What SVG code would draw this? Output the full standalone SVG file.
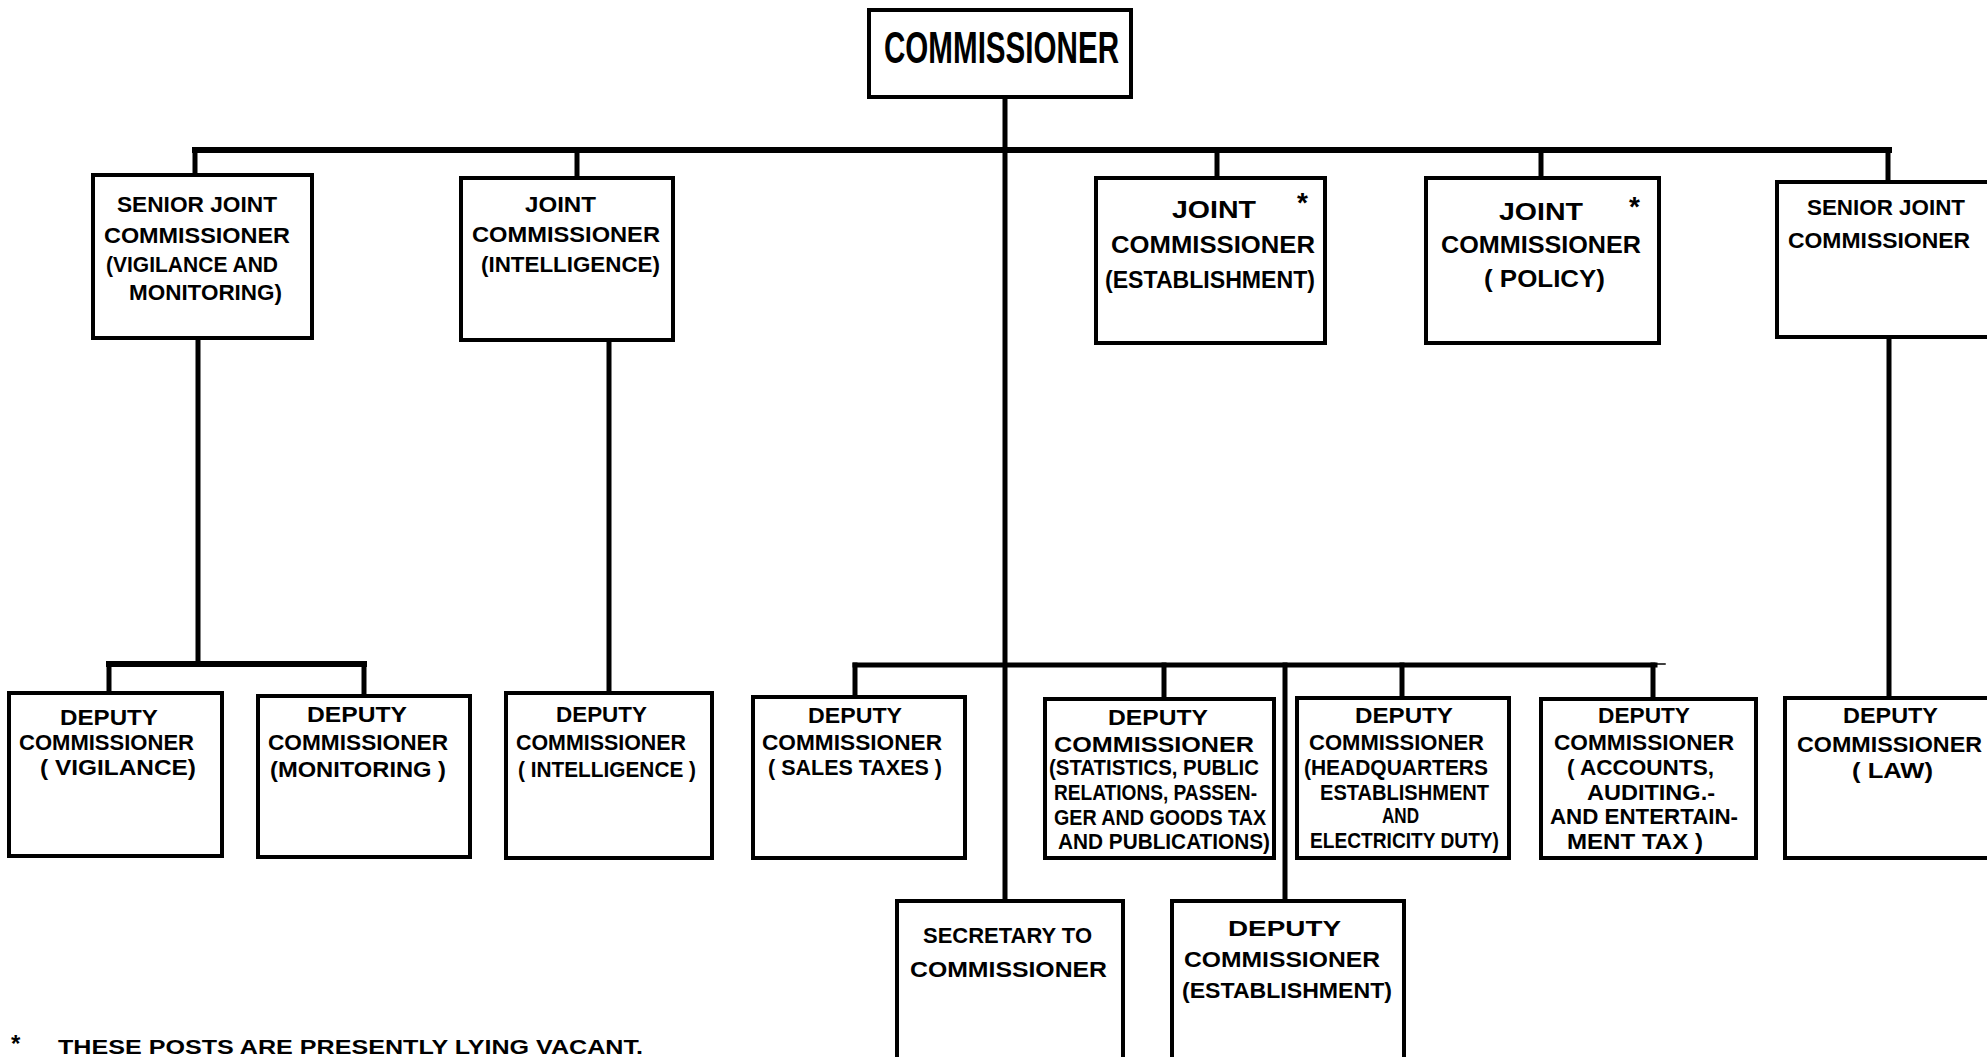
<svg xmlns="http://www.w3.org/2000/svg" width="1987" height="1057" viewBox="0 0 1987 1057">
<style>
.box{fill:#fff;stroke:#000;stroke-width:4}
.conn line{stroke:#000;stroke-width:5;stroke-linecap:square}
text{font-family:"Liberation Sans",Arial,sans-serif;font-weight:bold;font-size:22px;fill:#000}
.big{font-size:44px}
.mid{font-size:24px}
.ast{font-size:28px}
</style>
<rect width="1987" height="1057" fill="#fff"/>
<g id="connectors" class="conn">
<line x1="1005" y1="97" x2="1005" y2="900"/>
<line x1="195" y1="150" x2="1889" y2="150" style="stroke-width:6"/>
<line x1="195" y1="150" x2="195" y2="175"/>
<line x1="577" y1="150" x2="577" y2="178"/>
<line x1="1217" y1="150" x2="1217" y2="178"/>
<line x1="1541" y1="150" x2="1541" y2="178"/>
<line x1="1888" y1="150" x2="1888" y2="182"/>
<line x1="198" y1="338" x2="198" y2="664"/>
<line x1="109" y1="664" x2="364" y2="664" style="stroke-width:6"/>
<line x1="109" y1="664" x2="109" y2="693"/>
<line x1="364" y1="664" x2="364" y2="696"/>
<line x1="609" y1="340" x2="609" y2="693"/>
<line x1="855" y1="665" x2="1655" y2="665"/>
<line x1="855" y1="665" x2="855" y2="697"/>
<line x1="1164" y1="665" x2="1164" y2="699"/>
<line x1="1402" y1="665" x2="1402" y2="698"/>
<line x1="1653" y1="665" x2="1653" y2="699"/>
<line x1="1285" y1="665" x2="1285" y2="901"/>
<line x1="1889" y1="338" x2="1889" y2="698"/>
<line x1="1655" y1="664" x2="1665" y2="664" style="stroke-width:1.5"/>
</g>
<g id="commissioner">
<rect class="box" x="869" y="10" width="262" height="87"/>
<text class="big" x="884" y="63" textLength="235" lengthAdjust="spacingAndGlyphs">COMMISSIONER</text>
</g>
<g id="sjc-vigilance">
<rect class="box" x="93" y="175" width="219" height="163"/>
<text x="117" y="212" textLength="160" lengthAdjust="spacingAndGlyphs">SENIOR JOINT</text>
<text x="104" y="243" textLength="186" lengthAdjust="spacingAndGlyphs">COMMISSIONER</text>
<text x="106" y="272" textLength="172" lengthAdjust="spacingAndGlyphs">(VIGILANCE AND</text>
<text x="129" y="300" textLength="153" lengthAdjust="spacingAndGlyphs">MONITORING)</text>
</g>
<g id="jc-intelligence">
<rect class="box" x="461" y="178" width="212" height="162"/>
<text x="525" y="212" textLength="71" lengthAdjust="spacingAndGlyphs">JOINT</text>
<text x="472" y="242" textLength="188" lengthAdjust="spacingAndGlyphs">COMMISSIONER</text>
<text x="481" y="272" textLength="179" lengthAdjust="spacingAndGlyphs">(INTELLIGENCE)</text>
</g>
<g id="jc-establishment">
<rect class="box" x="1096" y="178" width="229" height="165"/>
<text class="mid" x="1172" y="218" textLength="84" lengthAdjust="spacingAndGlyphs">JOINT</text>
<text class="mid" x="1111" y="253" textLength="204" lengthAdjust="spacingAndGlyphs">COMMISSIONER</text>
<text class="mid" x="1105" y="288" textLength="210" lengthAdjust="spacingAndGlyphs">(ESTABLISHMENT)</text>
<text class="ast" x="1297" y="212">*</text>
</g>
<g id="jc-policy">
<rect class="box" x="1426" y="178" width="233" height="165"/>
<text class="mid" x="1499" y="220" textLength="84" lengthAdjust="spacingAndGlyphs">JOINT</text>
<text class="mid" x="1441" y="253" textLength="200" lengthAdjust="spacingAndGlyphs">COMMISSIONER</text>
<text class="mid" x="1484" y="287" textLength="121" lengthAdjust="spacingAndGlyphs">( POLICY)</text>
<text class="ast" x="1629" y="216">*</text>
</g>
<g id="sjc-right">
<rect class="box" x="1777" y="182" width="240" height="155"/>
<text x="1807" y="215" textLength="158" lengthAdjust="spacingAndGlyphs">SENIOR JOINT</text>
<text x="1788" y="248" textLength="182" lengthAdjust="spacingAndGlyphs">COMMISSIONER</text>
</g>
<g id="dc-vigilance">
<rect class="box" x="9" y="693" width="213" height="163"/>
<text x="60" y="725" textLength="98" lengthAdjust="spacingAndGlyphs">DEPUTY</text>
<text x="19" y="750" textLength="175" lengthAdjust="spacingAndGlyphs">COMMISSIONER</text>
<text x="40" y="775" textLength="156" lengthAdjust="spacingAndGlyphs">( VIGILANCE)</text>
</g>
<g id="dc-monitoring">
<rect class="box" x="258" y="696" width="212" height="161"/>
<text x="307" y="722" textLength="100" lengthAdjust="spacingAndGlyphs">DEPUTY</text>
<text x="268" y="750" textLength="180" lengthAdjust="spacingAndGlyphs">COMMISSIONER</text>
<text x="270" y="777" textLength="176" lengthAdjust="spacingAndGlyphs">(MONITORING )</text>
</g>
<g id="dc-intelligence">
<rect class="box" x="506" y="693" width="206" height="165"/>
<text x="556" y="722" textLength="91" lengthAdjust="spacingAndGlyphs">DEPUTY</text>
<text x="516" y="750" textLength="170" lengthAdjust="spacingAndGlyphs">COMMISSIONER</text>
<text x="518" y="777" textLength="178" lengthAdjust="spacingAndGlyphs">( INTELLIGENCE )</text>
</g>
<g id="dc-sales-taxes">
<rect class="box" x="753" y="697" width="212" height="161"/>
<text x="808" y="723" textLength="94" lengthAdjust="spacingAndGlyphs">DEPUTY</text>
<text x="762" y="750" textLength="180" lengthAdjust="spacingAndGlyphs">COMMISSIONER</text>
<text x="768" y="775" textLength="174" lengthAdjust="spacingAndGlyphs">( SALES TAXES )</text>
</g>
<g id="dc-statistics">
<rect class="box" x="1045" y="699" width="229" height="159"/>
<text x="1108" y="725" textLength="100" lengthAdjust="spacingAndGlyphs">DEPUTY</text>
<text x="1054" y="752" textLength="200" lengthAdjust="spacingAndGlyphs">COMMISSIONER</text>
<text x="1049" y="775" textLength="210" lengthAdjust="spacingAndGlyphs">(STATISTICS, PUBLIC</text>
<text x="1054" y="800" textLength="203" lengthAdjust="spacingAndGlyphs">RELATIONS, PASSEN-</text>
<text x="1054" y="825" textLength="212" lengthAdjust="spacingAndGlyphs">GER AND GOODS TAX</text>
<text x="1058" y="849" textLength="212" lengthAdjust="spacingAndGlyphs">AND PUBLICATIONS)</text>
</g>
<g id="dc-headquarters">
<rect class="box" x="1297" y="698" width="212" height="160"/>
<text x="1355" y="723" textLength="98" lengthAdjust="spacingAndGlyphs">DEPUTY</text>
<text x="1309" y="750" textLength="175" lengthAdjust="spacingAndGlyphs">COMMISSIONER</text>
<text x="1304" y="775" textLength="184" lengthAdjust="spacingAndGlyphs">(HEADQUARTERS</text>
<text x="1320" y="800" textLength="169" lengthAdjust="spacingAndGlyphs">ESTABLISHMENT</text>
<text x="1382" y="823" textLength="37" lengthAdjust="spacingAndGlyphs">AND</text>
<text x="1310" y="848" textLength="189" lengthAdjust="spacingAndGlyphs">ELECTRICITY DUTY)</text>
</g>
<g id="dc-accounts">
<rect class="box" x="1541" y="699" width="215" height="159"/>
<text x="1598" y="723" textLength="92" lengthAdjust="spacingAndGlyphs">DEPUTY</text>
<text x="1554" y="750" textLength="180" lengthAdjust="spacingAndGlyphs">COMMISSIONER</text>
<text x="1567" y="775" textLength="147" lengthAdjust="spacingAndGlyphs">( ACCOUNTS,</text>
<text x="1587" y="800" textLength="128" lengthAdjust="spacingAndGlyphs">AUDITING.-</text>
<text x="1550" y="824" textLength="188" lengthAdjust="spacingAndGlyphs">AND ENTERTAIN-</text>
<text x="1567" y="849" textLength="136" lengthAdjust="spacingAndGlyphs">MENT  TAX )</text>
</g>
<g id="dc-law">
<rect class="box" x="1785" y="698" width="240" height="160"/>
<text x="1843" y="723" textLength="95" lengthAdjust="spacingAndGlyphs">DEPUTY</text>
<text x="1797" y="752" textLength="185" lengthAdjust="spacingAndGlyphs">COMMISSIONER</text>
<text x="1852" y="778" textLength="81" lengthAdjust="spacingAndGlyphs">( LAW)</text>
</g>
<g id="secretary">
<rect class="box" x="897" y="901" width="226" height="180"/>
<text x="923" y="943" textLength="169" lengthAdjust="spacingAndGlyphs">SECRETARY TO</text>
<text x="910" y="977" textLength="197" lengthAdjust="spacingAndGlyphs">COMMISSIONER</text>
</g>
<g id="dc-establishment">
<rect class="box" x="1172" y="901" width="232" height="180"/>
<text x="1228" y="936" textLength="113" lengthAdjust="spacingAndGlyphs">DEPUTY</text>
<text x="1184" y="967" textLength="196" lengthAdjust="spacingAndGlyphs">COMMISSIONER</text>
<text x="1182" y="998" textLength="210" lengthAdjust="spacingAndGlyphs">(ESTABLISHMENT)</text>
</g>
<g id="footnote">
<text x="11" y="1052" style="font-size:24px">*</text>
<text x="58" y="1054" style="font-size:20px" textLength="585" lengthAdjust="spacingAndGlyphs">THESE POSTS ARE PRESENTLY LYING VACANT.</text>
</g>
</svg>
